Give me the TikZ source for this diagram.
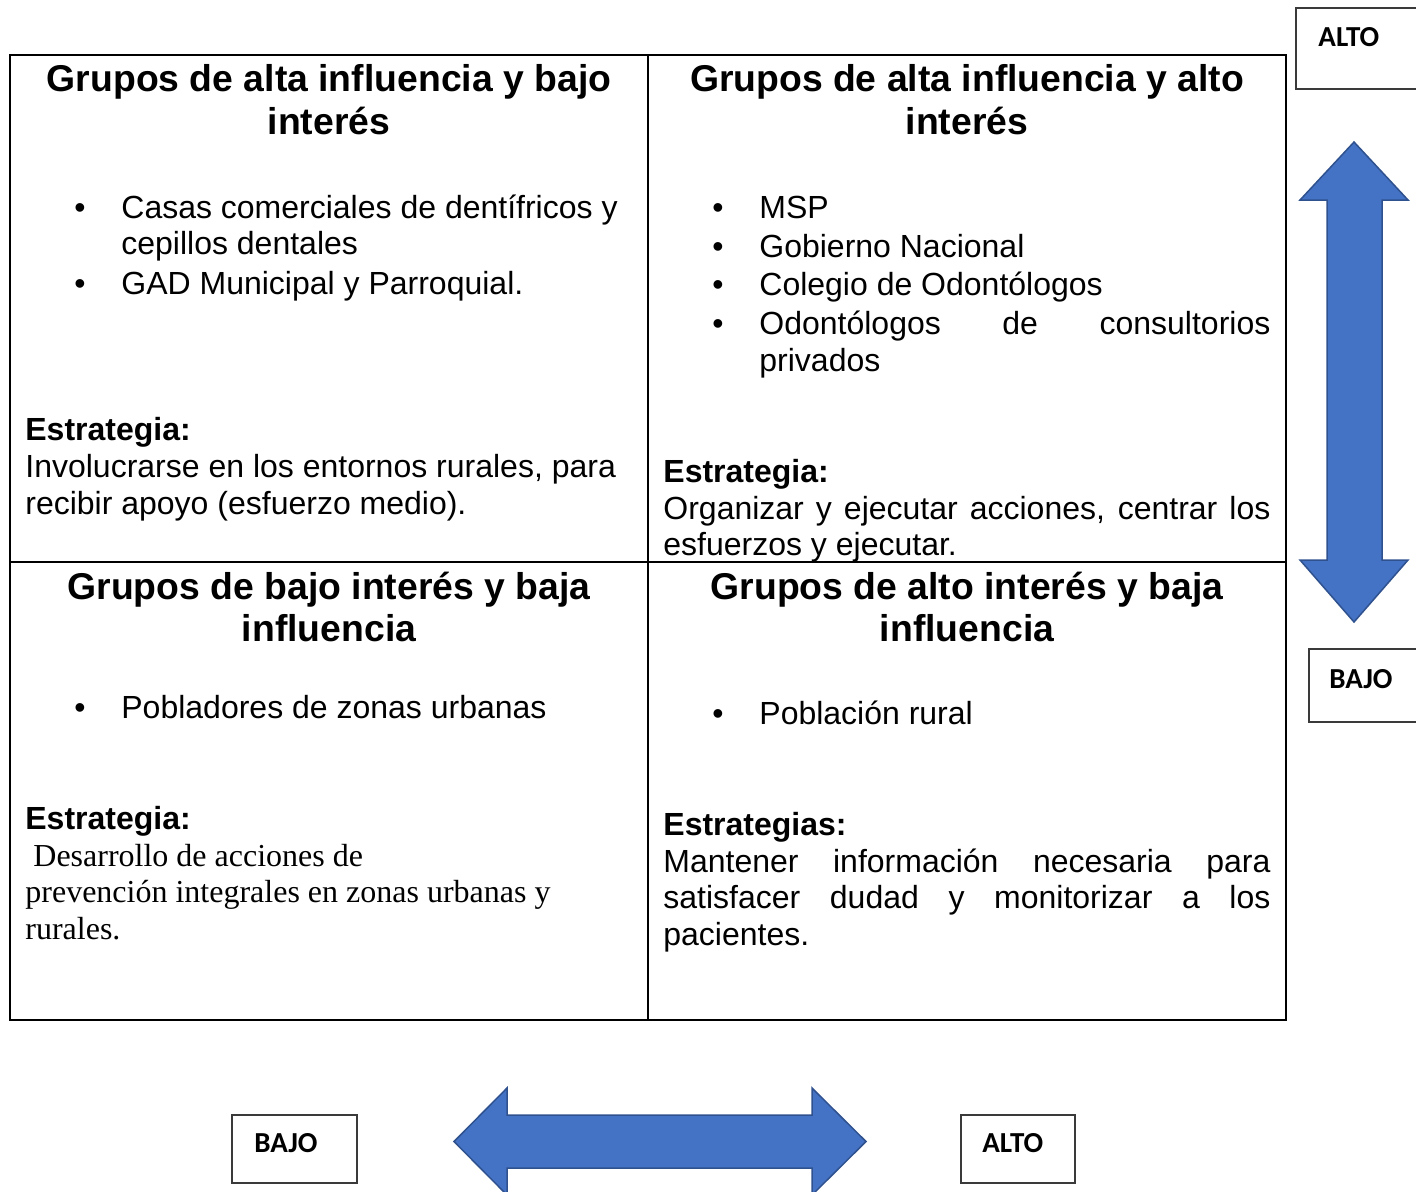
\documentclass[tikz,border=0pt]{standalone}
\usepackage{fontspec}
\setmainfont{Liberation Sans}
\newfontfamily\calibrifont{Carlito}
\newfontfamily\romanfont{Liberation Serif}
\definecolor{arrowblue}{HTML}{4472C4}
\definecolor{arrowline}{HTML}{2F528F}
\definecolor{boxline}{HTML}{3A3A3A}
\begin{document}
\begin{tikzpicture}[x=0.5pt, y=-0.5pt,
    title/.style={font=\fontsize{18.67}{21.5}\selectfont\bfseries, inner sep=0pt, anchor=base, yshift=-0.5pt},
    body/.style={font=\fontsize{16}{18.4}\selectfont, inner sep=0pt, anchor=base west, yshift=-1pt},
    headline/.style={body, font=\fontsize{16}{18.4}\selectfont\bfseries},
    serif/.style={body, font=\fontsize{16}{18.4}\selectfont\romanfont},
    bul/.style={body, anchor=base},
    lbl/.style={font=\fontsize{14.5}{17}\selectfont\calibrifont\bfseries, inner sep=0pt, anchor=base west},
    arrowshape/.style={fill=arrowblue, draw=arrowline, line width=0.75pt, line join=miter}]
\useasboundingbox (0,0) rectangle (1416,1191);
\clip (0,0) rectangle (1416,1191);

\draw [line width=1.1pt] (10,55) rectangle (1286,1020);
\draw [line width=1.1pt] (648,55) -- (648,1020) (10,562) -- (1286,562);

\node[title] (tla) at (329,90) {Grupos de alta influencia y bajo};
\node[title] (tlb) at (329,133) {interés};
\node[bul] (tlb1) at (80,216) {\textbullet};
\node[body] (tl1a) at (121,216) {Casas comerciales de dentífricos y};
\node[body] (tl1b) at (121,252) {cepillos dentales};
\node[bul] (tlb2) at (80,292) {\textbullet};
\node[body] (tl2) at (121,292) {GAD Municipal y Parroquial.};
\node[headline] (tlh) at (25,438) {Estrategia:};
\node[body] (tls1) at (25,475) {Involucrarse en los entornos rurales, para};
\node[body] (tls2) at (25,512) {recibir apoyo (esfuerzo medio).};

\node[title] (tra) at (967,90) {Grupos de alta influencia y alto};
\node[title] (trb) at (967,133) {interés};
\node[bul] (trb1) at (718,216) {\textbullet};
\node[body] (tr1) at (759,216) {MSP};
\node[bul] (trb2) at (718,255) {\textbullet};
\node[body] (tr2) at (759,255) {Gobierno Nacional};
\node[bul] (trb3) at (718,293) {\textbullet};
\node[body] (tr3) at (759,293) {Colegio de Odontólogos};
\node[bul] (trb4) at (718,332) {\textbullet};
\node[body] (tr4a) at (759,332) {\makebox[255.5pt][s]{Odontólogos de consultorios}};
\node[body] (tr4b) at (759,369) {privados};
\node[headline] (trh) at (663,480) {Estrategia:};
\node[body] (trs1) at (663,517) {\makebox[303.5pt][s]{Organizar y ejecutar acciones, centrar los}};
\node[body] (trs2) at (663,553) {esfuerzos y ejecutar.};

\node[title] (bla) at (329,598) {Grupos de bajo interés y baja};
\node[title] (blb) at (329,640) {influencia};
\node[bul] (blb1) at (80,716) {\textbullet};
\node[body] (bl1) at (121,716) {Pobladores de zonas urbanas};
\node[headline] (blh) at (25,827) {Estrategia:};
\node[serif] (bls1) at (33,864) {Desarrollo de acciones de};
\node[serif] (bls2) at (25,900) {prevención integrales en zonas urbanas y};
\node[serif] (bls3) at (25,937) {rurales.};

\node[title] (bra) at (967,598) {Grupos de alto interés y baja};
\node[title] (brb) at (967,640) {influencia};
\node[bul] (brb1) at (718,722) {\textbullet};
\node[body] (br1) at (759,722) {Población rural};
\node[headline] (brh) at (663,833) {Estrategias:};
\node[body] (brs1) at (663,870) {\makebox[303.5pt][s]{Mantener información necesaria para}};
\node[body] (brs2) at (663,906) {\makebox[303.5pt][s]{satisfacer dudad y monitorizar a los}};
\node[body] (brs3) at (663,943) {pacientes.};

\draw [arrowshape] (1354,142) -- (1408,200) -- (1382,200) -- (1382,560) -- (1408,560) -- (1354,622)
      -- (1300,560) -- (1327,560) -- (1327,200) -- (1300,200) -- cycle;
\draw [arrowshape] (454,1141.5) -- (507,1088) -- (507,1115) -- (812,1115) -- (812,1088) -- (866,1141.5)
      -- (812,1195) -- (812,1168) -- (507,1168) -- (507,1195) -- cycle;

\draw [boxline, line width=0.6pt] (1296,8) rectangle (1430,89);
\node[lbl] (altoV) at (1318,46) {ALTO};
\draw [boxline, line width=0.6pt] (1309,649) rectangle (1430,722);
\node[lbl] (bajoV) at (1329,688) {BAJO};
\draw [boxline, line width=0.6pt] (232,1115) rectangle (357,1183);
\node[lbl] (bajoH) at (254,1152) {BAJO};
\draw [boxline, line width=0.6pt] (961,1115) rectangle (1075,1183);
\node[lbl] (altoH) at (982,1152) {ALTO};
\end{tikzpicture}
\end{document}
